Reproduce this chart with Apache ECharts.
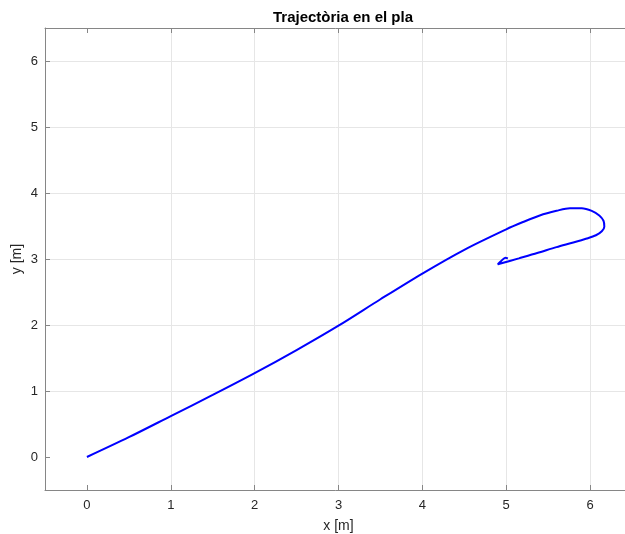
<!DOCTYPE html>
<html>
<head>
<meta charset="utf-8">
<script src="https://cdn.jsdelivr.net/npm/echarts@6/dist/echarts.min.js"></script>
<style>
    html, body { margin: 0; padding: 0; background: #ffffff; }
    #chart { width: 625px; height: 534px; }
</style>
</head>
<body>
<div id="chart"></div>
<script>
// trajectory
const xs = [0, 0.5, 1, 1.5, 2, 2.5, 3, 3.5, 4, 4.5, 5, 5.2, 5.4, 5.6, 5.76, 5.9, 6.02, 6.11, 6.16, 6.17, 6.14, 6.07, 5.96, 5.8, 5.6, 5.37, 5.15, 4.9, 4.94, 4.99, 5.02];
const ys = [0, 0.30, 0.62, 0.94, 1.27, 1.62, 1.99, 2.39, 2.78, 3.14, 3.45, 3.56, 3.66, 3.73, 3.77, 3.77, 3.73, 3.66, 3.58, 3.49, 3.42, 3.36, 3.31, 3.25, 3.18, 3.09, 3.01, 2.92, 2.97, 3.02, 3.01];
const xTicks = [0, 1, 2, 3, 4, 5, 6];
const yTicks = [0, 1, 2, 3, 4, 5, 6];

const chart = echarts.init(document.getElementById('chart'));
const font = 'Helvetica, "Liberation Sans", Arial, sans-serif';

const axisBase = {
    type: 'value',
    min: -0.5,
    max: 6.5,
    interval: 0.5,
    axisLine: { show: true, onZero: false, lineStyle: { color: '#868686', width: 1 } },
    axisTick: { show: true, inside: true, length: 5, lineStyle: { color: '#868686' },
        customValues: xTicks },
    splitLine: { show: false },
    axisLabel: { show: false }
};

chart.setOption({
    animation: false,
    title: {
        text: 'Trajectòria en el pla',
        left: 338,
        top: 5,
        textAlign: 'center',
        textStyle: { fontFamily: font, fontSize: 15, fontWeight: 'bold', color: '#000' }
    },
    grid: { left: 45, top: 28, width: 587, height: 462, outerBoundsMode: 'none', containLabel: false },
    xAxis: [
        Object.assign({}, axisBase, {
            position: 'bottom',
            name: 'x [m]',
            nameLocation: 'middle',
            nameGap: 29,
            nameMoveOverlap: false,
            nameTextStyle: { fontFamily: font, fontSize: 14, color: '#262626', verticalAlign: 'top' },
            splitLine: { show: true, lineStyle: { color: '#e6e6e6' }, showMinLine: false },
            axisLabel: { show: true, customValues: xTicks, margin: 9,
                fontFamily: font, fontSize: 13, color: '#262626' }
        }),
        Object.assign({}, axisBase, { position: 'top' })
    ],
    yAxis: [
        Object.assign({}, axisBase, {
            position: 'left',
            name: 'y [m]',
            nameLocation: 'middle',
            nameGap: 21,
            nameMoveOverlap: false,
            nameTextStyle: { fontFamily: font, fontSize: 14, color: '#262626' },
            axisTick: { show: true, inside: true, length: 5, lineStyle: { color: '#868686' },
                customValues: yTicks },
            splitLine: { show: true, lineStyle: { color: '#e6e6e6' }, showMinLine: false },
            axisLabel: { show: true, customValues: yTicks, margin: 7,
                fontFamily: font, fontSize: 13, color: '#262626' }
        })
    ],
    series: [{
        type: 'line',
        data: xs.map((x, i) => [x, ys[i]]),
        smooth: 0.3,
        showSymbol: false,
        lineStyle: { color: '#0000ff', width: 2 }
    }]
});
</script>
</body>
</html>
